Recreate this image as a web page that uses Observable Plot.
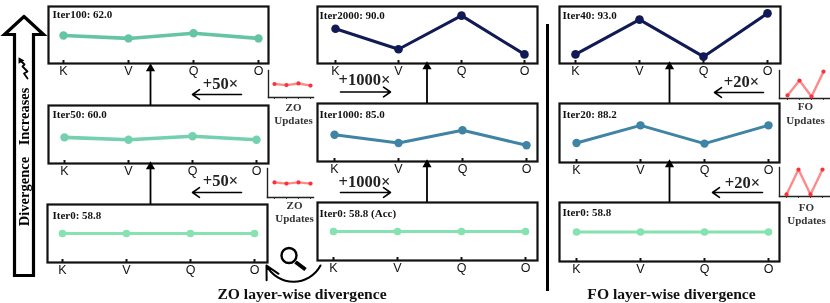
<!DOCTYPE html>
<html>
<head>
<meta charset="utf-8">
<script src="https://cdn.jsdelivr.net/npm/d3@7"></script>
<script src="https://cdn.jsdelivr.net/npm/@observablehq/plot@0.6"></script>
<style>
html,body{margin:0;padding:0;background:#fff;}
#stage{position:relative;width:830px;height:303px;overflow:hidden;filter:blur(0.35px);}
#stage svg{position:absolute;display:block;overflow:visible;max-width:none;}
</style>
</head>
<body>
<div id="stage"></div>
<script>
const categories = ["K", "V", "Q", "O"];

// Layer-wise values (relative height in each panel, 0-100)
const iter100 = [49, 44, 53, 44];
const iter50 = [45, 41, 47, 41];
const iter0 = [50, 50, 50, 50];
const iter2000 = [61, 25, 84, 16];
const iter1000 = [46, 32, 54, 28];
const iter40 = [16, 77, 12, 88];
const iter20 = [33, 63, 32, 63];
const zoUpdatesTop = [50, 46, 52, 44];
const zoUpdatesBottom = [52, 48, 52, 48];
const foUpdatesTop = [11, 64, 7, 96];
const foUpdatesBottom = [7, 93, 7, 93];

const SERIF = "'Liberation Serif', serif";
const SANS = "'Liberation Sans', sans-serif";
const stage = document.getElementById("stage");

const panels = [
  {title: "Iter100: 62.0", values: iter100, color: "#66c4a6", left: 48, top: 6, w: 220, h: 57, x0: 15, x1: 210, tx: 4, ty: 8, r: 4.2, sw: 3.6},
  {title: "Iter50: 60.0", values: iter50, color: "#74d0ae", left: 48, top: 105, w: 220, h: 58, x0: 15, x1: 208, tx: 4, ty: 9, r: 4.2, sw: 3.6},
  {title: "Iter0: 58.8", values: iter0, color: "#86e2b0", left: 47, top: 204, w: 220, h: 58, x0: 14, x1: 207, tx: 5, ty: 11, r: 3.8, sw: 3},
  {title: "Iter2000: 90.0", values: iter2000, color: "#111a55", left: 317, top: 6, w: 220, h: 57, x0: 17, x1: 208, tx: 2, ty: 9, r: 4.3, sw: 3},
  {title: "Iter1000: 85.0", values: iter1000, color: "#3f84a4", left: 317, top: 103, w: 220, h: 58, x0: 16, x1: 209, tx: 2, ty: 11, r: 4.2, sw: 3},
  {title: "Iter0: 58.8 (Acc)", values: iter0, color: "#86e2b0", left: 317, top: 202, w: 220, h: 58, x0: 15, x1: 209, tx: 2, ty: 11, r: 3.8, sw: 3},
  {title: "Iter40: 93.0", values: iter40, color: "#111a55", left: 559, top: 6, w: 221, h: 57, x0: 15, x1: 208, tx: 3, ty: 9, r: 4.3, sw: 3},
  {title: "Iter20: 88.2", values: iter20, color: "#3f84a4", left: 559, top: 103, w: 220, h: 59, x0: 16, x1: 209, tx: 3, ty: 11, r: 4.2, sw: 3},
  {title: "Iter0: 58.8", values: iter0, color: "#86e2b0", left: 559, top: 202, w: 220, h: 59, x0: 16, x1: 209, tx: 3, ty: 10, r: 3.8, sw: 3}
];

const minis = [
  {values: zoUpdatesTop, left: 268, top: 70, w: 45, h: 27, x0: 5, x1: 43},
  {values: zoUpdatesBottom, left: 267, top: 168, w: 46, h: 29, x0: 7, x1: 43},
  {values: foUpdatesTop, left: 779, top: 70, w: 50, h: 28, x0: 7, x1: 44},
  {values: foUpdatesBottom, left: 779, top: 167, w: 50, h: 29, x0: 6, x1: 43}
];

function place(svg, left, top) {
  svg.style.left = left + "px";
  svg.style.top = top + "px";
  stage.appendChild(svg);
}

const pad = 2;
for (const p of panels) {
  const rows = categories.map((c, i) => ({c, v: p.values[i]}));
  const chart = Plot.plot({
    width: p.w + pad * 2,
    height: p.h + pad + 18,
    marginLeft: pad, marginRight: pad, marginTop: pad, marginBottom: 18,
    style: {background: "transparent", overflow: "visible"},
    x: {type: "point", padding: 0, domain: categories, range: [pad + p.x0, pad + p.x1]},
    y: {domain: [0, 100], range: [pad + p.h, pad], axis: null},
    marks: [
      Plot.axisX({tickSize: -3, tickPadding: 6, fontSize: 12.5, fontFamily: SANS, stroke: "#111", fill: "#111", strokeWidth: 2, label: null, tickFormat: d => d}),
      Plot.frame({stroke: "#111", strokeWidth: 2.2}),
      Plot.line(rows, {x: "c", y: "v", stroke: p.color, strokeWidth: p.sw}),
      Plot.dot(rows, {x: "c", y: "v", fill: p.color, r: p.r}),
      Plot.text([p.title], {frameAnchor: "top-left", dx: p.tx, dy: p.ty, textAnchor: "start", lineAnchor: "middle", fontFamily: SERIF, fontWeight: "bold", fontSize: 11, fill: "#111"})
    ]
  });
  place(chart, p.left - pad, p.top - pad);
}

for (const m of minis) {
  const rows = categories.map((c, i) => ({c, v: m.values[i]}));
  const chart = Plot.plot({
    width: m.w + 2,
    height: m.h + 5,
    marginLeft: 1, marginRight: 1, marginTop: 1, marginBottom: 4,
    style: {background: "transparent", overflow: "visible"},
    x: {type: "point", padding: 0, domain: categories, range: [1 + m.x0, 1 + m.x1], axis: null},
    y: {domain: [0, 100], range: [1 + m.h, 1], axis: null},
    marks: [
      Plot.axisX({tickSize: 2, tickFormat: () => "", label: null, stroke: "#444"}),
      Plot.frame({anchor: "left", stroke: "#222", strokeWidth: 1.4}),
      Plot.frame({anchor: "bottom", stroke: "#222", strokeWidth: 1.4}),
      Plot.line(rows, {x: "c", y: "v", stroke: "#ff8a8a", strokeWidth: 2.4}),
      Plot.dot(rows, {x: "c", y: "v", fill: "#f8323f", r: 2.1})
    ]
  });
  place(chart, m.left - 1, m.top - 1);
}

// Annotation layer in page coordinates
const scaleLabels = [
  {t: "+50×", x: 220, y: 83}, {t: "+50×", x: 220, y: 180},
  {t: "+1000×", x: 364, y: 79}, {t: "+1000×", x: 364, y: 181},
  {t: "+20×", x: 741, y: 81}, {t: "+20×", x: 742, y: 182}
];
const updateLabels = [
  {t: "ZO", x: 293, y: 107}, {t: "Updates", x: 293, y: 120},
  {t: "ZO", x: 294, y: 205}, {t: "Updates", x: 294, y: 218},
  {t: "FO", x: 805, y: 106}, {t: "Updates", x: 805, y: 120},
  {t: "FO", x: 806, y: 207}, {t: "Updates", x: 806, y: 220}
];
const captions = [
  {t: "ZO layer-wise divergence", x: 301.5, y: 293},
  {t: "FO layer-wise divergence", x: 671, y: 293}
];
const sideWords = [
  {t: "Divergence", x: 24, y: 191},
  {t: "Increases", x: 24, y: 116}
];
const horizontalArrows = [
  {x1: 241, y1: 94, x2: 192, y2: 94}, {x1: 241, y1: 192, x2: 192, y2: 192},
  {x1: 340, y1: 91.5, x2: 390, y2: 91.5}, {x1: 340, y1: 192, x2: 390, y2: 192},
  {x1: 763, y1: 92, x2: 714, y2: 92}, {x1: 762, y1: 192, x2: 712, y2: 192}
];
const upArrows = [
  {x: 150, y1: 105, y2: 68}, {x: 150, y1: 204, y2: 166},
  {x: 426.5, y1: 103, y2: 66}, {x: 426.5, y1: 202, y2: 164},
  {x: 669, y1: 103, y2: 66}, {x: 669, y1: 202, y2: 164}
];
const bigArrow = [[23.5, 16], [43, 34], [33, 34], [33, 275], [14, 275], [14, 34], [4, 34], [23.5, 16]];
const zigzag = [[27, 78], [23.5, 73], [27, 71], [22, 66], [24, 64], [20, 60]];

const overlay = Plot.plot({
  width: 830, height: 303,
  margin: 0,
  style: {background: "transparent", overflow: "visible"},
  x: {domain: [0, 830], range: [0, 830], axis: null},
  y: {domain: [0, 303], range: [0, 303], axis: null},
  marks: [
    Plot.line(bigArrow, {x: d => d[0], y: d => d[1], stroke: "#000", strokeWidth: 3.2, strokeLinejoin: "miter", strokeMiterlimit: 6}),
    Plot.line(zigzag, {x: d => d[0], y: d => d[1], stroke: "#000", strokeWidth: 1.8}),
    Plot.dot([[20, 60]], {x: d => d[0], y: d => d[1], symbol: "triangle", fill: "#000", r: 2.5, rotate: -30}),
    Plot.ruleX([547], {y1: 24, y2: 291, stroke: "#000", strokeWidth: 3}),
    Plot.arrow(horizontalArrows, {x1: "x1", y1: "y1", x2: "x2", y2: "y2", stroke: "#000", strokeWidth: 1.6, headLength: 8, headAngle: 70}),
    Plot.ruleX(upArrows, {x: "x", y1: "y1", y2: "y2", stroke: "#000", strokeWidth: 1.8}),
    Plot.dot(upArrows, {x: "x", y: "y2", symbol: "triangle", fill: "#000", r: 3.4}),
    Plot.dot([[288.5, 255]], {x: d => d[0], y: d => d[1], r: 7.5, stroke: "#000", strokeWidth: 2.4, fill: "none"}),
    Plot.link([[0]], {x1: () => 295, y1: () => 261.5, x2: () => 305, y2: () => 269, stroke: "#000", strokeWidth: 4}),
    Plot.arrow([[0]], {x1: () => 320, y1: () => 265, x2: () => 266, y2: () => 265, bend: 62, stroke: "#000", strokeWidth: 2, headLength: 11, headAngle: 55}),
    Plot.text(scaleLabels, {x: "x", y: "y", text: "t", fontFamily: SERIF, fontSize: 16.5, fontWeight: "bold", fill: "#222", lineAnchor: "middle"}),
    Plot.text(updateLabels, {x: "x", y: "y", text: "t", fontFamily: SERIF, fontSize: 11, fontWeight: "bold", fill: "#333", lineAnchor: "middle"}),
    Plot.text(captions, {x: "x", y: "y", text: "t", fontFamily: SERIF, fontSize: 15.6, fontWeight: "bold", fill: "#111", lineAnchor: "middle"}),
    Plot.text(sideWords, {x: "x", y: "y", text: "t", fontFamily: SERIF, fontSize: 14.5, fontWeight: "bold", fill: "#000", lineAnchor: "middle", rotate: -90})
  ]
});
place(overlay, 0, 0);
</script>
</body>
</html>
